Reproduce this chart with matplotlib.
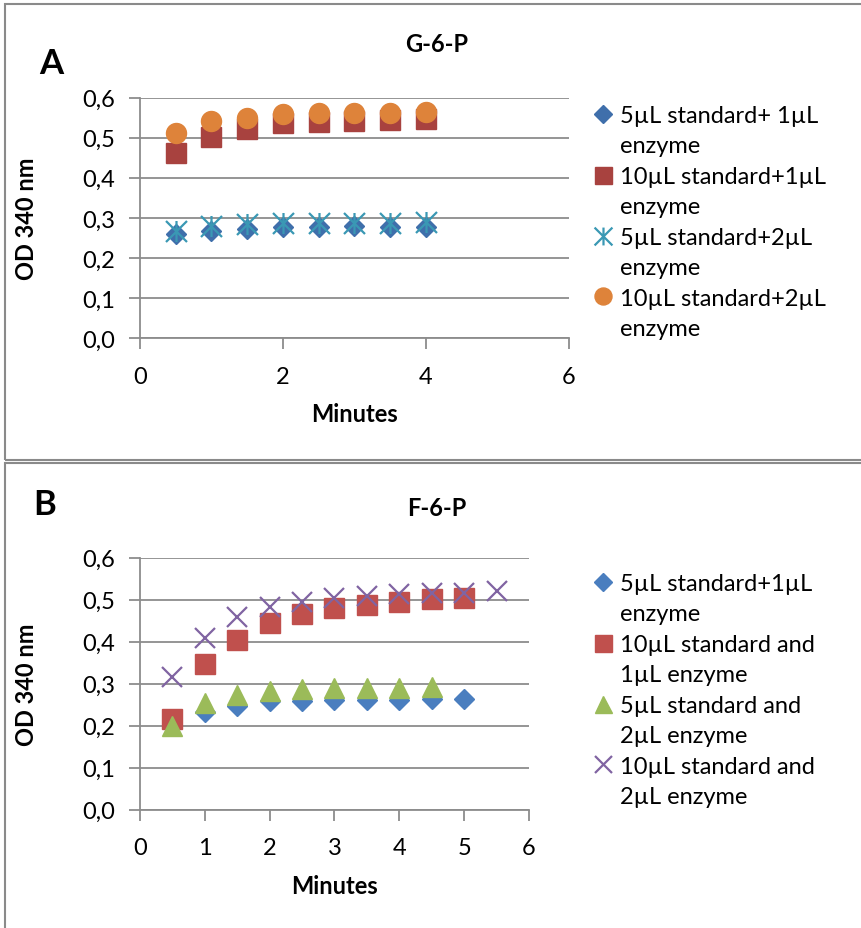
import matplotlib
matplotlib.use("Agg")
import matplotlib.pyplot as plt
from matplotlib.path import Path
from matplotlib.lines import Line2D
from matplotlib.patches import Rectangle
from matplotlib.ticker import FuncFormatter, MultipleLocator

plt.rcParams['font.family'] = ['Lato', 'DejaVu Sans']

# ---- data ----
minutes_a = [0.5, 1, 1.5, 2, 2.5, 3, 3.5, 4]
g6p_5std_1enz = [0.259, 0.268, 0.272, 0.277, 0.277, 0.279, 0.278, 0.277]
g6p_10std_1enz = [0.461, 0.503, 0.523, 0.536, 0.539, 0.543, 0.544, 0.546]
g6p_5std_2enz = [0.267, 0.280, 0.285, 0.288, 0.288, 0.288, 0.288, 0.290]
g6p_10std_2enz = [0.512, 0.542, 0.550, 0.559, 0.561, 0.563, 0.563, 0.565]

minutes_b_5s1e = [1, 1.5, 2, 2.5, 3, 3.5, 4, 4.5, 5]
f6p_5std_1enz = [0.233, 0.248, 0.258, 0.259, 0.262, 0.262, 0.262, 0.263, 0.263]
minutes_b_10s1e = [0.5, 1, 1.5, 2, 2.5, 3, 3.5, 4, 4.5, 5]
f6p_10std_1enz = [0.217, 0.347, 0.403, 0.445, 0.467, 0.480, 0.488, 0.494, 0.501, 0.505]
minutes_b_5s2e = [0.5, 1, 1.5, 2, 2.5, 3, 3.5, 4, 4.5]
f6p_5std_2enz = [0.199, 0.254, 0.274, 0.283, 0.287, 0.290, 0.290, 0.290, 0.291]
minutes_b_10s2e = [0.5, 1, 1.5, 2, 2.5, 3, 3.5, 4, 4.5, 5, 5.5]
f6p_10std_2enz = [0.316, 0.409, 0.459, 0.483, 0.495, 0.505, 0.509, 0.513, 0.515, 0.517, 0.521]

labels_a = ["5µL standard+ 1µL", "10µL standard+1µL", "5µL standard+2µL", "10µL standard+2µL"]
labels_a2 = ["enzyme", "enzyme", "enzyme", "enzyme"]
labels_b = ["5µL standard+1µL", "10µL standard and", "5µL standard and", "10µL standard and"]
labels_b2 = ["enzyme", "1µL enzyme", "2µL enzyme", "2µL enzyme"]

# excel style star: X plus a vertical bar
star = Path([(-0.5, -0.5), (0.5, 0.5), (-0.5, 0.5), (0.5, -0.5), (0, -0.5), (0, 0.5)],
            [Path.MOVETO, Path.LINETO] * 3)

GRID = '#8c8c8c'
FS = 17

fig = plt.figure(figsize=(8.62, 9.29), dpi=100)

# panel borders
fig.patches.append(Rectangle((5 / 862, 1 - 461 / 929), 2, 456 / 929, transform=fig.transFigure,
                             fill=False, ec='#8a8a8a', lw=1.5))
fig.patches.append(Rectangle((5 / 862, -0.5), 2, 0.5 + 1 - 464 / 929, transform=fig.transFigure,
                             fill=False, ec='#8a8a8a', lw=1.5))


def style_axes(ax, x_step):
    ax.set_ylim(0, 0.6)
    ax.set_xlim(0, 6)
    ax.yaxis.set_major_locator(MultipleLocator(0.1))
    ax.xaxis.set_major_locator(MultipleLocator(x_step))
    ax.yaxis.set_major_formatter(FuncFormatter(lambda v, p: f"{v:.1f}".replace('.', ',')))
    ax.grid(axis='y', color=GRID, lw=1.3)
    ax.set_axisbelow(True)
    for s in ['top', 'right']:
        ax.spines[s].set_visible(False)
    for s in ['left', 'bottom']:
        ax.spines[s].set_color(GRID)
        ax.spines[s].set_linewidth(1.3)
    ax.tick_params(color=GRID, width=1.3, length=8, labelsize=FS)
    ax.tick_params(axis='x', pad=12)
    ax.tick_params(axis='y', pad=10)
    ax.set_xlabel("Minutes", fontsize=FS, fontweight='bold', labelpad=11)
    ax.set_ylabel("OD 340 nm", fontsize=FS, fontweight='bold', labelpad=32)


def legend_rows(handles, first, second, top_y):
    hs, ls = [], []
    blank = Line2D([], [], ls='none', marker='none')
    for h, a, b in zip(handles, first, second):
        hs += [h, blank]
        ls += [a, b]
    return fig.legend(hs, ls, loc='upper left', bbox_to_anchor=(594 / 862, top_y),
                      frameon=False, fontsize=FS, handlelength=0.8, handletextpad=0.3,
                      labelspacing=0.4, borderpad=0, borderaxespad=0, markerscale=0.85)


# ---- panel A ----
axA = fig.add_axes([140 / 862, 1 - 339 / 929, 428.7 / 862, 240.3 / 929])
ms = 14.4
hA = [
    axA.plot(minutes_a, g6p_5std_1enz, ls='none', marker='D', ms=ms / 1.41, color='#3f6fab', mec='#3f6fab')[0],
    axA.plot(minutes_a, g6p_10std_1enz, ls='none', marker='s', ms=ms, color='#a8423f', mec='#a8423f')[0],
    axA.plot(minutes_a, g6p_5std_2enz, ls='none', marker=star, ms=ms * 1.05, mew=1.6, color='#3a98b4')[0],
    axA.plot(minutes_a, g6p_10std_2enz, ls='none', marker='o', ms=ms, color='#de833a', mec='#de833a')[0],
]
style_axes(axA, 2)
fig.text(437 / 862, 1 - 45 / 929, "G-6-P", ha='center', va='center', fontsize=FS, fontweight='bold')
fig.text(51 / 862, 1 - 64 / 929, "A", ha='center', va='center', fontsize=25, fontweight='bold')
legend_rows(hA, labels_a, labels_a2, 1 - 106 / 929)

# ---- panel B ----
axB = fig.add_axes([140 / 862, 1 - 810.7 / 929, 389 / 862, 252 / 929])
hB = [
    axB.plot(minutes_b_5s1e, f6p_5std_1enz, ls='none', marker='D', ms=ms / 1.41, color='#4a7ebf', mec='#4a7ebf')[0],
    axB.plot(minutes_b_10s1e, f6p_10std_1enz, ls='none', marker='s', ms=ms, color='#c0504d', mec='#c0504d')[0],
    axB.plot(minutes_b_5s2e, f6p_5std_2enz, ls='none', marker='^', ms=ms, color='#9bbb59', mec='#9bbb59')[0],
    axB.plot(minutes_b_10s2e, f6p_10std_2enz, ls='none', marker='x', ms=ms, mew=1.6, color='#8064a2')[0],
]
style_axes(axB, 1)
fig.text(437 / 862, 1 - 508 / 929, "F-6-P", ha='center', va='center', fontsize=FS, fontweight='bold')
fig.text(45 / 862, 1 - 505 / 929, "B", ha='center', va='center', fontsize=25, fontweight='bold')
legend_rows(hB, labels_b, labels_b2, 1 - 574 / 929)

fig.savefig("out.png", dpi=100)
